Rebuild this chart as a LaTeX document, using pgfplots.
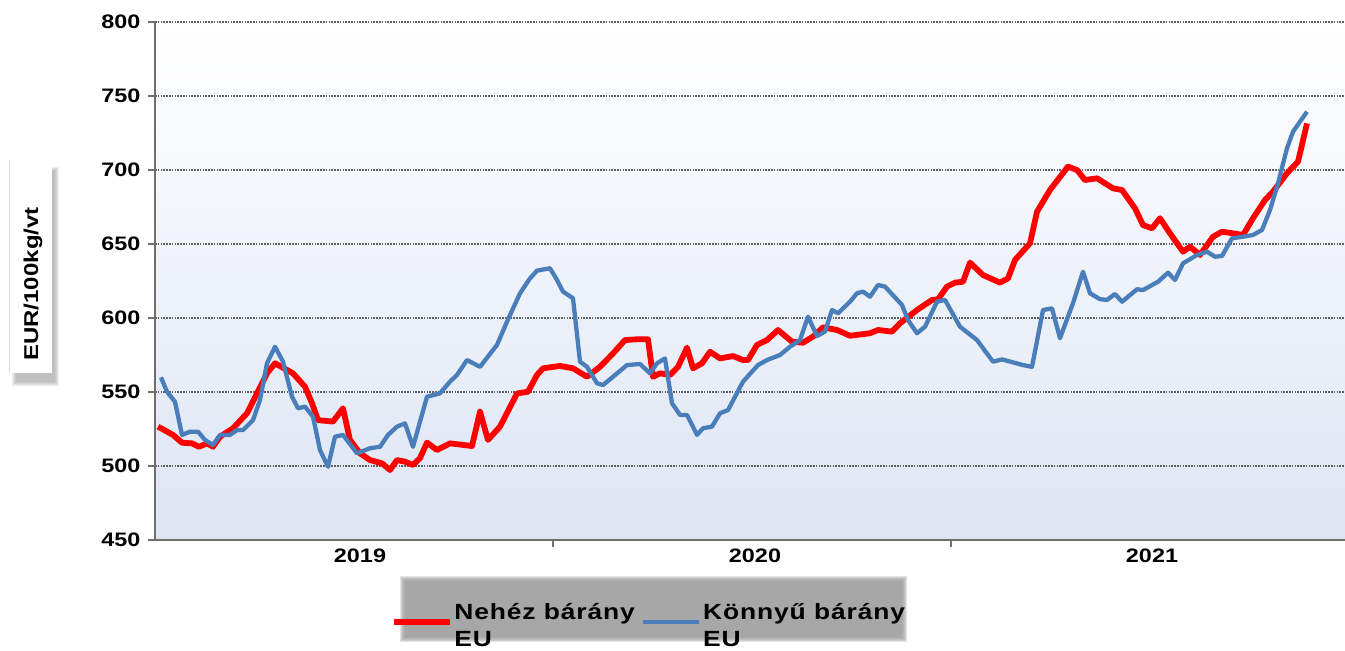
\documentclass[border=0pt]{standalone}
\usepackage{pgfplots}
\pgfplotsset{compat=1.18}
\usepackage{fontspec}
\setmainfont{Liberation Sans}[FakeStretch=1.2]
\definecolor{redline}{RGB}{255,0,0}
\definecolor{blueline}{RGB}{74,126,187}
\definecolor{bgblue}{RGB}{221,229,243}
\definecolor{leggray}{RGB}{152,152,152}
\definecolor{axgray}{RGB}{110,110,110}

\pgfplotstableread{
x y
158 526.6
173 521
182 515.7
192 515.3
199 513
207 515.3
213 513
220 519.8
233 525.5
247 535.6
257 549
267 562.6
275 569.4
287 564.9
293 562.6
305 553.6
312 542.4
318 531
333 530
343 539
350 517.6
360 508.6
370 504
382 501.8
390 497.3
397 504
405 502.9
413 500.7
420 505.3
427 515.8
437 510.8
450 515.3
472 513.5
480 536.7
488 517.6
500 526.6
517 549
528 550.2
537 561.5
543 566
560 567.6
573 566
587 560.3
600 567
613 576
625 585.1
637 585.6
648 585.6
653 560.3
660 562.6
670 561.5
678 567
687 580
693 566
702 569.4
710 577.2
720 572.7
733 574.3
743 571.6
748 571.6
757 581.8
767 585.1
778 591.9
792 584
803 583.3
813 587.4
823 593.7
837 591.9
850 588
870 589.7
878 591.9
892 590.8
900 596.4
917 605.4
932 612.2
938 612.6
947 621.2
955 623.9
963 624.5
970 637.4
983 629
1000 623.9
1008 626.8
1015 639.2
1030 650.5
1037 671.8
1050 686.5
1068 702.3
1077 700
1085 693.2
1097 694.4
1113 687.6
1122 686.5
1135 674.1
1143 662.8
1152 660.6
1160 667.4
1170 657.2
1183 644.8
1190 648.2
1200 642.6
1213 654.9
1222 658.3
1233 657.2
1243 656.1
1253 667.4
1265 679.7
1273 685.4
1287 697.8
1298 705.6
1307 731.5
}\heavy

\pgfplotstableread{
x y
161 559.9
167 550.2
175 543.4
182 521
190 523.2
198 523.2
205 517.6
213 514.2
220 521
230 521
237 524.3
243 524.3
253 531
260 544.6
267 569.4
275 580.6
283 570.5
292 546.8
298 539
305 540.1
313 533.3
320 510.8
328 499.5
335 519.8
343 521
357 508.6
370 512
380 513
388 521
397 526.6
405 528.8
413 513
427 546.8
440 549.1
450 557
457 561.5
467 571.6
480 567
497 581.8
507 597.5
520 616.7
530 626.8
537 632
550 633.6
557 625.7
563 617.8
573 613.3
580 570.5
587 567
597 555.9
603 554.7
613 560.3
627 568.2
640 568.9
650 562.6
657 569.4
665 572.7
672 542.4
680 534.5
687 534.5
697 521
703 525.5
712 526.6
720 535.6
728 537.8
743 557
758 568.2
767 571.6
780 575
790 580.6
800 585.1
808 600.9
817 587.8
825 590.8
832 605.4
838 603.2
850 611
857 616.7
863 617.8
870 614.4
878 622.3
885 621.2
902 608.8
908 598.6
917 589.7
925 594.1
937 611
945 612.2
960 594.1
977 585.1
993 570.5
1002 572
1023 568.2
1032 567
1043 605.4
1052 606.5
1060 586.3
1073 610
1083 631.3
1090 616.7
1100 612.7
1107 612.2
1115 616.2
1122 611
1137 619.4
1143 618.9
1158 624.5
1168 630.6
1175 625.7
1183 636.9
1197 642.6
1207 644.8
1215 641.4
1222 641.9
1232 653.9
1243 654.9
1253 656.1
1262 659.5
1270 673
1278 691
1287 714.7
1293 725.9
1307 739.4
}\light

\begin{document}
\begin{tikzpicture}[x=1pt,y=1pt]
\useasboundingbox (0,0) rectangle (1345,651);
% legend background with soft edges
\foreach \i in {0,1,2,3,4,5}{
  \fill[leggray, opacity=0.28] (400+\i,9+\i) rectangle (907-\i,75-\i);
}
% y label box with soft shadow
\foreach \i in {0,1,2,3,4}{
  \fill[gray, opacity=0.13] (12+\i,265+\i) rectangle (59-\i,484-\i);
}
\fill[white] (9,278) rectangle (52,491);
\draw[gray!25, line width=0.6pt] (9,278) -- (9,491);
\node[rotate=90, font=\bfseries\fontsize{20}{20}\selectfont, inner sep=0pt] at (33,367) {EUR/100kg/vt};
\begin{axis}[
  at={(155pt,111pt)}, anchor=south west,
  width=1190pt, height=518pt, scale only axis,
  xmin=155, xmax=1345, ymin=450, ymax=800,
  axis background/.style={shade, top color=white, bottom color=bgblue},
  axis x line*=bottom, axis y line*=left,
  axis line style={axgray, line width=2.2pt, -},
  ytick={450,500,...,800},
  ymajorgrids,
  major grid style={gray!75!black, line width=1.1pt, dash pattern=on 1.6pt off 1.2pt},
  tick align=outside,
  major tick length=7pt,
  ytick style={axgray, line width=1.2pt},
  xtick={553,951},
  xticklabels={},
  xtick style={axgray, line width=2.2pt},
  extra x ticks={360,755,1152},
  extra x tick labels={2019,2020,2021},
  extra x tick style={major tick length=0pt, grid=none},
  /pgf/number format/assume math mode=true,
  /pgf/number format/1000 sep={},
  ticklabel style={font=\bfseries\fontsize{19.5}{20}\selectfont},
  yticklabel style={xshift=-4pt},
  xticklabel style={yshift=-5pt},
  legend style={at={(0.198,-0.118)}, anchor=north west, draw=none, fill=none,
    inner sep=0pt, outer sep=0pt,
    font=\bfseries\fontsize{22}{27}\selectfont\addfontfeature{LetterSpace=4},
    cells={align=left, anchor=west},
    /tikz/every even column/.append style={column sep=4pt}},
  legend columns=2,
  legend image code/.code={\draw[#1] (0pt,0.35em) -- (56pt,0.35em);},
]
\addplot[redline, line width=5.8pt, line join=round] table[x=x,y=y] {\heavy};
\addlegendentry{Nehéz bárány\\EU}
\addplot[blueline, line width=4.3pt, line join=round] table[x=x,y=y] {\light};
\addlegendentry{Könnyű bárány\\EU}
\end{axis}
\end{tikzpicture}
\end{document}
